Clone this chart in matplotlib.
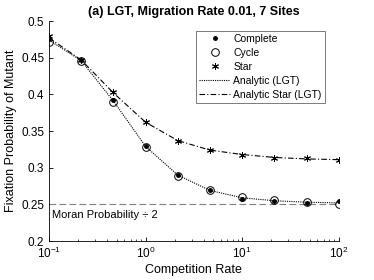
import numpy as np
import matplotlib
matplotlib.use('Agg')
import matplotlib.pyplot as plt
from matplotlib.ticker import FuncFormatter

plt.rcParams['font.family'] = ['Liberation Sans', 'DejaVu Sans']

# competition rates (3 per decade)
rates = [0.1, 0.215, 0.464, 1.0, 2.15, 4.64, 10.0, 21.5, 46.4, 100.0]
complete = [0.475, 0.447, 0.392, 0.330, 0.290, 0.269, 0.258, 0.255, 0.252, 0.254]
cycle = [0.472, 0.446, 0.390, 0.328, 0.289, 0.269, 0.260, 0.256, 0.253, 0.250]
star = [0.479, 0.447, 0.403, 0.362, 0.337, 0.324, 0.318, 0.313, 0.313, 0.311]
analytic = [0.474, 0.446, 0.391, 0.329, 0.290, 0.269, 0.259, 0.255, 0.253, 0.252]
analytic_star = [0.477, 0.447, 0.402, 0.362, 0.337, 0.324, 0.318, 0.314, 0.312, 0.311]
moran_half = 0.25

fig = plt.figure(figsize=(3.74, 2.8), dpi=100)
ax = fig.add_axes([0.131, 0.139, 0.775, 0.786])

ax.axhline(moran_half, color='#808080', linestyle=(0, (6, 3)), linewidth=0.8)
ax.text(0.107, 0.236, 'Moran Probability \u00f7 2', fontsize=8, va='center', ha='left')

ax.plot(rates, complete, linestyle='none', marker='o', markersize=2.5, color='black', label='Complete')
ax.plot(rates, cycle, linestyle='none', marker='o', markersize=5.5, markerfacecolor='none',
        markeredgecolor='black', markeredgewidth=0.7, label='Cycle')
ax.plot(rates, star, linestyle='none', marker=(6, 2, 0), markersize=5, color='black',
        markeredgewidth=0.7, label='Star')
ax.plot(rates, analytic, linestyle=(0, (1, 1)), color='black', linewidth=0.8, label='Analytic (LGT)')
ax.plot(rates, analytic_star, linestyle=(0, (5, 2, 1, 2)), color='black', linewidth=0.8,
        label='Analytic Star (LGT)')

ax.set_xscale('log')
ax.set_xlim(0.1, 100)
ax.set_ylim(0.2, 0.5)
ax.set_yticks(np.arange(0.2, 0.501, 0.05))
ax.yaxis.set_major_formatter(FuncFormatter(lambda v, p: f'{v:g}'))
ax.tick_params(direction='in', labelsize=8.5, length=3, width=0.6)
ax.tick_params(which='minor', direction='in', length=1.8, width=0.5)
for side in ['top', 'right']:
    ax.spines[side].set_visible(False)
for side in ['left', 'bottom']:
    ax.spines[side].set_linewidth(0.6)

ax.set_xlabel('Competition Rate', fontsize=9, labelpad=2)
ax.set_ylabel('Fixation Probability of Mutant', fontsize=9, labelpad=3)
ax.set_title('(a) LGT, Migration Rate 0.01, 7 Sites', fontsize=9, fontweight='bold', pad=4)

leg = ax.legend(loc='upper right', bbox_to_anchor=(0.952, 0.955), fontsize=7.5, frameon=True,
                fancybox=False, edgecolor='#404040', handlelength=3.0, handletextpad=0.3,
                borderpad=0.3, labelspacing=0.38, borderaxespad=0)
leg.get_frame().set_linewidth(0.6)

fig.savefig('out.png', dpi=100)
